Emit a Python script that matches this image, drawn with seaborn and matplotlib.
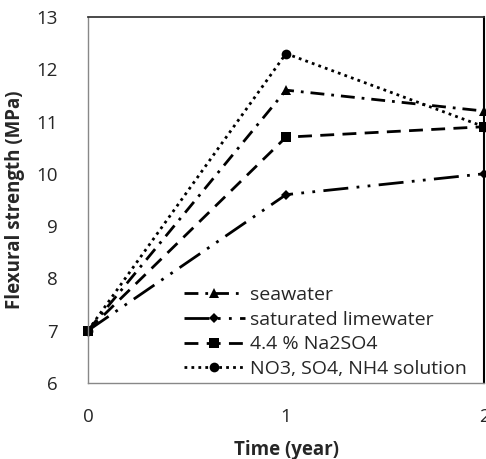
import matplotlib
matplotlib.use("Agg")
import matplotlib.pyplot as plt
import seaborn as sns
import pandas as pd

years = [0, 1, 2]
seawater = [7.0, 11.6, 11.2]
limewater = [7.0, 9.6, 10.0]
na2so4 = [7.0, 10.7, 10.9]
no3 = [7.0, 12.3, 10.9]
labels = ["seawater", "saturated limewater", "4.4 % Na2SO4", "NO3, SO4, NH4 solution"]

sns.set_theme(style="white")
plt.rcParams['font.family'] = ['Open Sans', 'DejaVu Sans']

df = pd.DataFrame({
    "year": years * 4,
    "value": seawater + limewater + na2so4 + no3,
    "series": [labels[0]] * 3 + [labels[1]] * 3 + [labels[2]] * 3 + [labels[3]] * 3,
})

fig = plt.figure(figsize=(4.86, 4.59), dpi=100)
ax = fig.add_axes([0.181, 0.166, 0.815, 0.797])

styles = {
    labels[0]: dict(marker="^", ms=7, dashes=(5, 2.5, 1, 2.5)),
    labels[1]: dict(marker="D", ms=5, dashes=(9, 3, 1, 3, 1, 3)),
    labels[2]: dict(marker="s", ms=6.5, dashes=(5, 3)),
    labels[3]: dict(marker="o", ms=7, dashes=(1, 1.5)),
}
for lab in labels:
    sub = df[df.series == lab]
    st = styles[lab]
    sns.lineplot(data=sub, x="year", y="value", ax=ax, color="black",
                 marker=st["marker"], markersize=st["ms"], markeredgewidth=0,
                 dashes=False, linewidth=2.0, label=lab)
    ax.lines[-1].set_dashes(st["dashes"])

ax.set_xlim(0, 2)
ax.set_ylim(6, 13)
ax.set_xticks([0, 1, 2])
ax.set_yticks(range(6, 14))
ax.tick_params(axis="x", labelsize=13.5, length=0, pad=18)
ax.tick_params(axis="y", labelsize=13.5, length=0, pad=22)
ax.set_xlabel("Time (year)", fontsize=13.5, fontweight="bold", labelpad=10)
ax.set_ylabel("Flexural strength (MPa)", fontsize=13.5, fontweight="bold", labelpad=8)
for k in ["left", "bottom"]:
    ax.spines[k].set_color("#888888")
    ax.spines[k].set_linewidth(1.0)
ax.spines["top"].set_color("#333333")
ax.spines["right"].set_color("black")
ax.spines["right"].set_linewidth(1.5)
for l in ax.lines:
    l.set_clip_on(False)

leg = ax.legend(loc="lower right", bbox_to_anchor=(1.0, -0.035), frameon=False,
                fontsize=14, handlelength=3.1, handletextpad=0.26, labelspacing=0.34)

fig.savefig("out.png", dpi=100)
